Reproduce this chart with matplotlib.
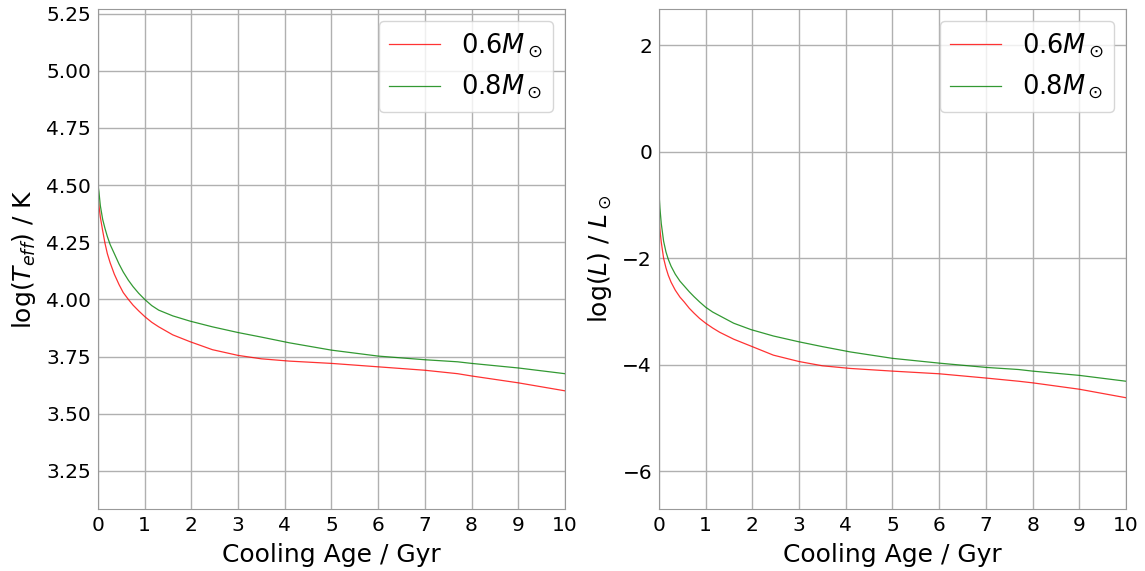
import numpy as np
import matplotlib
matplotlib.use("Agg")
import matplotlib.pyplot as plt

# cooling ages (Gyr)
age = [0.0, 0.02, 0.05, 0.1, 0.15, 0.2, 0.26, 0.35, 0.45, 0.54, 0.65, 0.75, 0.87,
       1.0, 1.15, 1.3, 1.6, 1.97, 2.45, 3.0, 3.5, 4.1, 5.0, 6.0, 7.0, 7.7, 8.0,
       9.0, 10.0]

# log(Teff) for 0.6 and 0.8 Msun
teff_06 = [4.45, 4.41, 4.36, 4.30, 4.245, 4.20, 4.16, 4.11, 4.065, 4.03, 4.00,
           3.975, 3.95, 3.925, 3.90, 3.88, 3.845, 3.815, 3.78, 3.755, 3.74, 3.73,
           3.72, 3.705, 3.69, 3.675, 3.665, 3.635, 3.60]
teff_08 = [4.50, 4.47, 4.41, 4.35, 4.31, 4.275, 4.24, 4.20, 4.155, 4.12, 4.084,
           4.056, 4.027, 4.00, 3.973, 3.953, 3.928, 3.905, 3.88, 3.855, 3.835,
           3.81, 3.778, 3.752, 3.736, 3.727, 3.72, 3.70, 3.675]

# log(L) for 0.6 and 0.8 Msun
lum_06 = [-1.17, -1.45, -1.7, -2.0, -2.18, -2.32, -2.45, -2.6, -2.73, -2.82,
          -2.94, -3.03, -3.13, -3.22, -3.31, -3.39, -3.52, -3.65, -3.82, -3.94,
          -4.02, -4.07, -4.12, -4.17, -4.25, -4.31, -4.34, -4.46, -4.62]
lum_08 = [-0.76, -1.05, -1.35, -1.68, -1.88, -2.02, -2.15, -2.3, -2.43, -2.52,
          -2.63, -2.72, -2.82, -2.92, -3.01, -3.08, -3.22, -3.34, -3.46, -3.57,
          -3.66, -3.76, -3.88, -3.97, -4.05, -4.09, -4.12, -4.20, -4.31]

labels = [r"$0.6M_\odot$", r"$0.8M_\odot$"]
colores = ["red", "green"]

fig = plt.figure(figsize=(11.45, 5.71), dpi=100)
ax1 = fig.add_axes([0.0856, 0.1086, 0.4078, 0.8754])
ax2 = fig.add_axes([0.5755, 0.1086, 0.4079, 0.8754])

paneles = [
    (ax1, [teff_06, teff_08], r"log($T_{eff}$) / K", (3.083, 5.27)),
    (ax2, [lum_06, lum_08], r"log($L$) / $L_\odot$", (-6.71, 2.68)),
]

for ax, series, ylab, ylim in paneles:
    for y, lab, c in zip(series, labels, colores):
        ax.plot(age, y, color=c, lw=0.9, alpha=0.8, label=lab)
    ax.set_xlim(0, 10)
    ax.set_ylim(*ylim)
    ax.set_xticks(range(0, 11))
    ax.grid(True, color="#b0b0b0", lw=1.0)
    ax.set_axisbelow(True)
    for s in ax.spines.values():
        s.set_color("#999999")
        s.set_linewidth(0.8)
    ax.tick_params(length=0, labelsize=14.5, pad=5)
    ax.set_xlabel("Cooling Age / Gyr", fontsize=18, labelpad=6)
    ax.set_ylabel(ylab, fontsize=18, labelpad=6)
    ax.legend(loc="upper right", fontsize=18.5, handlelength=2.0, borderaxespad=0.45)

ax1.set_yticks(np.arange(3.25, 5.26, 0.25))
ax2.set_yticks([-6, -4, -2, 0, 2])

fig.savefig("out.png", dpi=100)
